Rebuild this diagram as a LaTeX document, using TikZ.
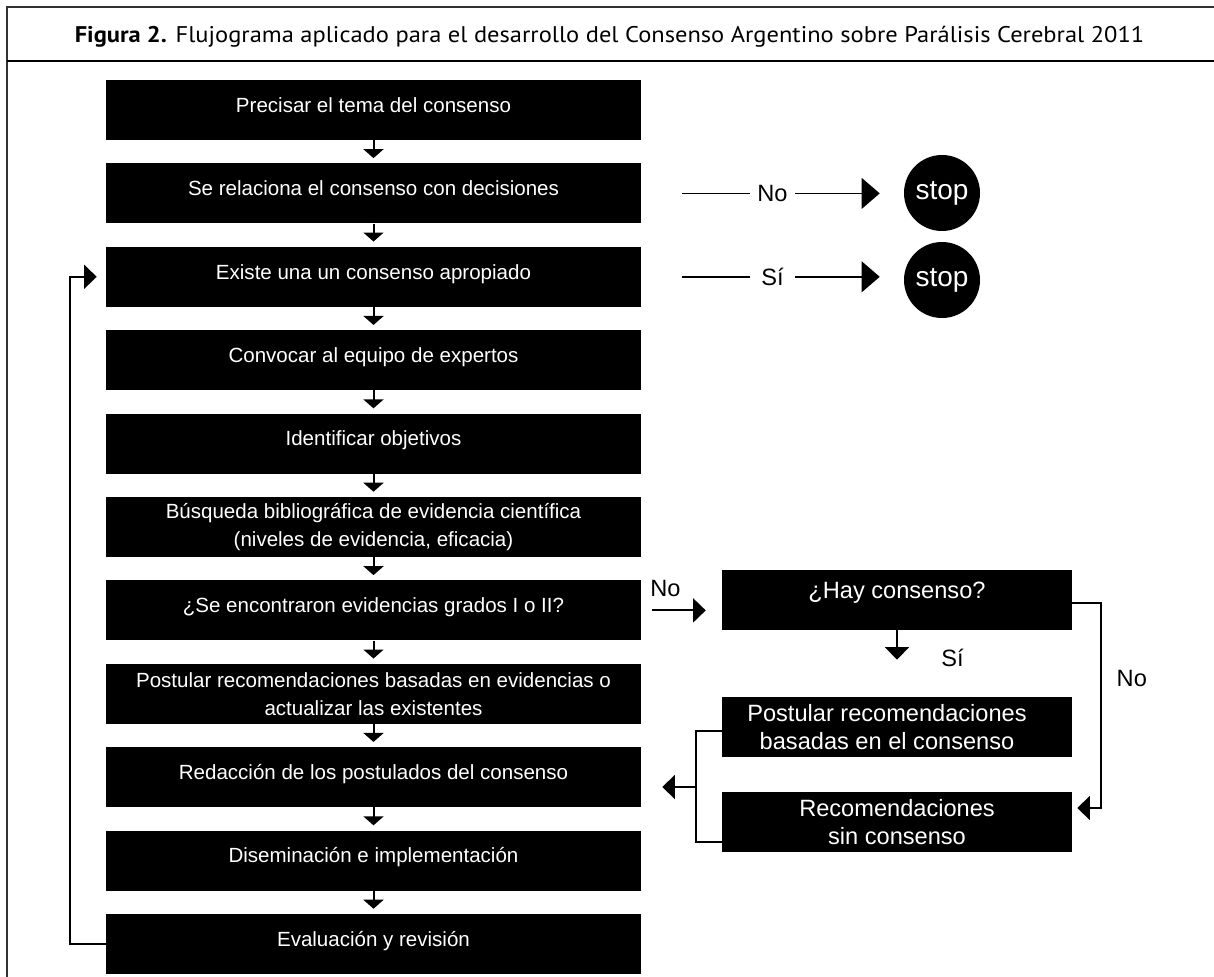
\documentclass[tikz,border=0pt]{standalone}
\usepackage{fontspec}
\setmainfont{Liberation Sans}
\newfontfamily\titlefont[FakeStretch=1.08]{PT Sans}
\usetikzlibrary{arrows.meta,positioning}

\tikzset{
  caja/.style={fill=black, text=white, inner sep=0pt, minimum width=401.25pt, minimum height=45pt, font=\fontsize{15.4}{21}\selectfont},
  unalinea/.style={text height=11pt, text depth=7.5pt},
  doslineas/.style={align=center},
  cajader/.style={fill=black, text=white, inner sep=0pt, minimum width=262.5pt, minimum height=45pt, font=\fontsize{17.7}{21}\selectfont},
  parada/.style={circle, fill=black, text=white, inner sep=0pt, minimum size=57pt, font=\fontsize{21}{24}\selectfont},
  etiqueta/.style={font=\fontsize{17.7}{21}\selectfont},
  flecha/.style={-{Triangle[width=15pt,length=6.75pt]}, line width=1.5pt, shorten >=3.75pt},
  flechagr/.style={-{Triangle[width=23pt,length=13.5pt]}, line width=1.1pt},
  conector/.style={-{Triangle[width=18pt,length=9.5pt]}, line width=1.5pt}
}

\begin{document}
\begin{tikzpicture}[x=0.75pt, y=-0.75pt]
  \useasboundingbox (0,0) rectangle (1214,977);

  % Frame and title
  \draw[line width=1.6pt, black!80] (1214,7) -- (7,7) -- (7,977);
  \draw[line width=2.2pt] (7,61) -- (1214,61);
  \node (titulo) [anchor=base] at (609.5,43) {\titlefont\fontsize{17}{19}\selectfont\textbf{Figura 2.} Flujograma aplicado para el desarrollo del Consenso Argentino sobre Parálisis Cerebral 2011};

  % Main column
  \node (tema)   [caja, unalinea] at (373.5,110)   {Precisar el tema del consenso};
  \node (relac)  [caja, unalinea] at (373.5,193.4) {Se relaciona el consenso con decisiones};
  \node (existe) [caja, unalinea] at (373.5,276.8) {Existe una un consenso apropiado};
  \node (equipo) [caja, unalinea] at (373.5,360.2) {Convocar al equipo de expertos};
  \node (objet)  [caja, unalinea] at (373.5,443.6) {Identificar objetivos};
  \node (busq)   [caja, doslineas] at (373.5,527)  {Búsqueda bibliográfica de evidencia científica\\(niveles de evidencia, eficacia)};
  \node (evid)   [caja, unalinea] at (373.5,610.4) {¿Se encontraron evidencias grados I o II?};
  \node (postev) [caja, doslineas] at (373.5,693.8) {Postular recomendaciones basadas en evidencias o\\actualizar las existentes};
  \node (redac)  [caja, unalinea] at (373.5,777.2) {Redacción de los postulados del consenso};
  \node (disem)  [caja, unalinea] at (373.5,860.6) {Diseminación e implementación};
  \node (evalr)  [caja, unalinea] at (373.5,944)   {Evaluación y revisión};

  \draw[flecha] (tema) -- (relac);
  \draw[flecha] (relac) -- (existe);
  \draw[flecha] (existe) -- (equipo);
  \draw[flecha] (equipo) -- (objet);
  \draw[flecha] (objet) -- (busq);
  \draw[flecha] (busq) -- (evid);
  \draw[flecha] (evid) -- (postev);
  \draw[flecha] (postev) -- (redac);
  \draw[flecha] (redac) -- (disem);
  \draw[flecha] (disem) -- (evalr);

  % Loop back
  \draw[conector, shorten >=6.75pt] (evalr.west) -- ++(-27pt,0) |- (existe.west);

  % Stops
  \node (stopa) [parada] at (942,193) {stop};
  \node (stopb) [parada] at (942,280) {stop};
  \draw[flechagr, shorten <=30.75pt, shorten >=18pt] (relac.east) -- node[etiqueta, fill=white, minimum width=33.75pt, inner sep=0pt] {No} (relac.east -| stopa.west);
  \draw[flechagr, shorten <=30.75pt, shorten >=18pt] (existe.east) -- node[etiqueta, fill=white, minimum width=33.75pt, inner sep=0pt] {Sí} (existe.east -| stopb.west);

  % Consensus branch
  \node (hay)      [cajader, text height=12.7pt, text depth=15pt] at (897,600) {¿Hay consenso?};
  \node (postcons) [cajader, align=center] at (897,727) {Postular recomendaciones\hspace*{15pt}\\basadas en el consenso\hspace*{15pt}};
  \node (sincons)  [cajader, align=center] at (897,822) {Recomendaciones\\sin consenso};

  \coordinate (hayin) at (evid.east -| hay.west);
  \draw[conector, shorten <=8.25pt, shorten >=12pt] (evid.east) -- node[etiqueta, pos=.3, anchor=base, yshift=10.5pt] {No} (hayin);
  \draw[conector] (hay.south) -- ([yshift=27.75pt]postcons.north) node[etiqueta, anchor=base west, xshift=29.25pt, yshift=-5.25pt] {Sí};
  \draw[conector, shorten >=3.75pt] ([yshift=-2.25pt]hay.east) -- ++(21.75pt,0) |- node[etiqueta, pos=.185, right=7.5pt] {No} ([yshift=10.5pt]sincons.east);

  % Bracket back to the main column
  \draw[line width=1.5pt] ([yshift=-3pt]postcons.west) -- ++(-19.5pt,0) |- ([yshift=-15pt]sincons.west);
  \coordinate (junta) at (696,787);
  \draw[conector, shorten >=15.75pt] (junta) -- (junta -| redac.east);
\end{tikzpicture}
\end{document}
